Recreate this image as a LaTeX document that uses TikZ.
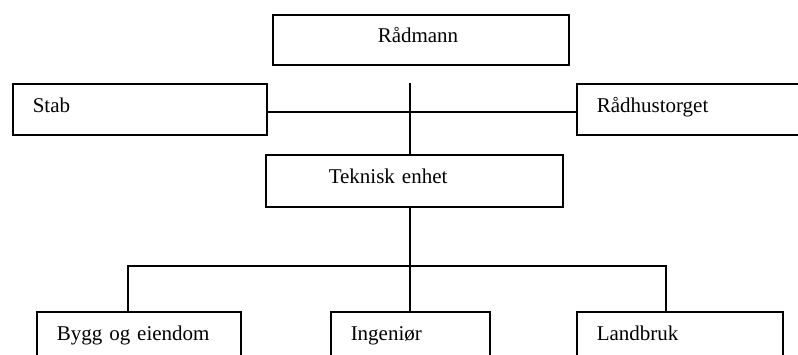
\documentclass[tikz,border=0pt]{standalone}
\usepackage{fontspec}
\setmainfont{Liberation Serif}
\usepackage{tikz}
\tikzstyle{box} = [rectangle, draw=black, line width=1.5pt, anchor=north west, inner xsep=20, inner ysep=0, minimum height=51, text height=15, text depth=9, align=left, font=\fontsize{21}{25}\selectfont]
\tikzstyle{line} = [line width=1.5pt]

\begin{document}
\begin{tikzpicture}[x=1pt, y=-1pt]
\useasboundingbox (0,0) rectangle (798,354);
\clip (0,0) rectangle (798,354);
\node (radmann)[box, inner xsep=105, text width=86, minimum height=50] at (272,14) {Rådmann};
\node (stab)[box, text width=214] at (12,83) {Stab};
\node (radhus)[box, text width=220] at (576,83) {Rådhustorget};
\node (teknisk)[box, inner xsep=63, text width=171, minimum height=52] at (265,154) {Teknisk enhet};
\node (bygg)[box, text width=164] at (36,311) {Bygg og eiendom};
\node (ingenior)[box, text width=119] at (330,311) {Ingeniør};
\node (landbruk)[box, text width=166] at (576,311) {Landbruk};

\coordinate (stem) at (410,83);
\coordinate (barleft) at (128,266);
\coordinate (barright) at (666,266);

\draw[line] (stem) -- (stem |- teknisk.north);
\draw[line] ([yshift=-2.5pt]stab.east) -- ([yshift=-2.5pt]radhus.west);
\draw[line] (stem |- teknisk.south) -- (stem |- ingenior.north);
\draw[line] (barleft |- bygg.north) -- (barleft) -- (barright) -- (barright |- landbruk.north);
\end{tikzpicture}
\end{document}
